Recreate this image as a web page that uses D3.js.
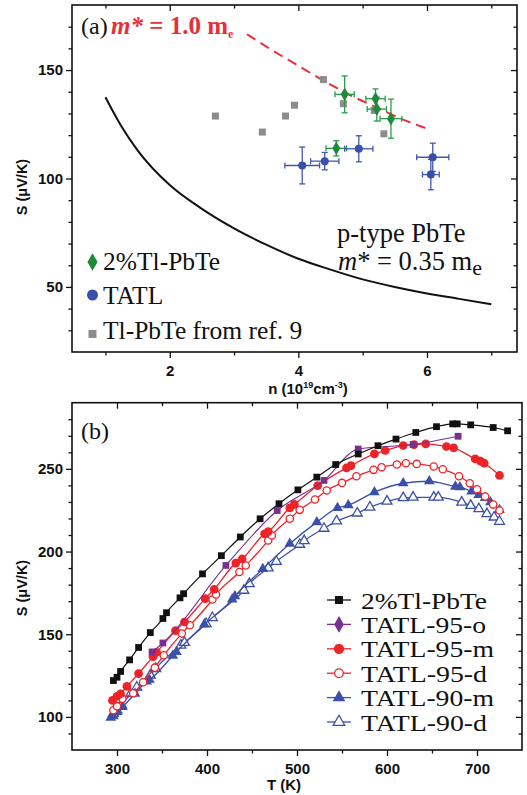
<!DOCTYPE html>
<html>
<head>
<meta charset="utf-8">
<script src="https://cdn.jsdelivr.net/npm/d3@7/dist/d3.min.js"></script>
<style>
body { margin: 0; background: #fff; }
svg { display: block; }
.tick text { font-family: "Liberation Sans", Arial, sans-serif; font-weight: bold; font-size: 15px; fill: #111; }
.tick line { stroke: #111; stroke-width: 1.3; }
.domain { display: none; }
</style>
</head>
<body>
<div id="root"></div>
<script>
// ---- panel (a): S vs n ----
var calcN = [1.0, 1.25, 1.5, 2, 2.5, 3, 3.5, 4, 4.5, 5, 5.5, 6, 6.5, 7];
var calcS = [137.5, 124, 113, 97, 86, 77, 69.5, 63, 58, 53.5, 50, 47, 44.5, 42];
var heavyN = [3.2, 3.6, 4.0, 4.4, 4.8, 5.2, 5.6, 6.0];
var heavyS = [166.5, 159, 152, 145, 138.5, 133, 127.5, 123];
var refN = [2.71, 3.44, 3.80, 3.94, 4.39, 4.70, 5.18, 5.33];
var refS = [128.8, 121.4, 128.8, 133.8, 145.6, 134.5, 131.4, 120.6];
var tlN = [4.72, 5.20, 5.22, 5.44, 4.59];
var tlS = [138.8, 136.8, 132.0, 127.6, 113.9];
var tlEx = [0.15, 0.15, 0.15, 0.17, 0.16];
var tlEy = [8.5, 4.5, 5.5, 9, 3.5];
var tatlN = [4.06, 4.41, 4.94, 6.09, 6.06];
var tatlS = [106, 108, 113.7, 109.8, 101.8];
var tatlEx = [0.27, 0.22, 0.22, 0.25, 0.13];
var tatlEy = [8.5, 4, 6, 6.5, 7];
var aXTicks = [2, 4, 6];
var aYTicks = [50, 100, 150];

// ---- panel (b): S vs T ----
var names = ["2%Tl-PbTe", "TATL-95-o", "TATL-95-m", "TATL-95-d", "TATL-90-m", "TATL-90-d"];
var tPbTe = [296, 300, 304, 314, 324, 337, 351, 355, 370, 374, 395, 416, 437, 459, 480, 501, 522, 543, 568, 590, 610, 632, 655, 673, 678, 693, 718, 734];
var sPbTe = [122, 124, 127.5, 134.5, 142, 151, 159.5, 163, 172, 174.5, 186.5, 197.5, 208.8, 219.8, 228.9, 237.3, 245, 252.6, 259, 264, 268, 272, 275.5, 277.2, 277.2, 276.6, 275, 273];
var t95o = [339, 351, 421, 478, 530, 568, 629, 679];
var s95o = [139.3, 144.7, 191.6, 224.8, 243, 262, 264.7, 269.7];
var t95m = [295, 300, 304, 311, 324, 340, 344, 365, 375, 398, 408, 432, 439, 464, 468, 492, 497, 523, 555, 560, 586, 598, 618, 630, 643, 666, 674, 698, 704, 708, 725];
var s95m = [110, 112.5, 114, 118.5, 126.2, 136.5, 139, 152.2, 157.4, 171.5, 177.2, 193, 195.5, 210.7, 212, 226.4, 228.5, 239.9, 250.6, 252, 259.1, 261.1, 264.1, 264.7, 265.1, 263.5, 262.7, 256, 254.6, 253.4, 246];
var t95d = [296, 300, 306, 318, 329, 342, 352, 372, 381, 406, 410, 436, 443, 468, 472, 492, 503, 520, 533, 550, 566, 585, 594, 611, 621, 633, 652, 662, 680, 692, 700, 709, 718, 725];
var s95d = [104, 106.5, 111, 114.3, 121, 129.8, 137.3, 150.4, 155.4, 171, 174, 187.6, 191.6, 206.7, 209.7, 219.8, 225.2, 231.5, 236.9, 241.5, 245.5, 249.4, 251, 252.6, 253.4, 253, 251.4, 249.8, 245.5, 241.3, 237.7, 233.3, 228.4, 224.8];
var t90m = [293, 296, 300, 306, 320, 333, 336, 362, 366, 397, 428, 431, 462, 492, 522, 545, 557, 586, 618, 647, 676, 681, 694, 702, 709, 715, 725];
var s90m = [99.5, 100.5, 103, 106, 114, 121.5, 122.5, 137, 139.3, 156, 171, 173, 189.5, 204.7, 217.8, 226.4, 228, 235.9, 241.3, 242.5, 239.3, 238.9, 236.3, 234.3, 232.5, 229.8, 225.2];
var t90d = [296, 300, 305, 315, 322, 337, 343, 371, 375, 399, 406, 441, 447, 468, 477, 503, 508, 530, 544, 567, 581, 600, 618, 629, 652, 657, 683, 693, 702, 711, 719, 725];
var s90d = [102, 104, 107, 114, 118, 125.2, 129.2, 143.3, 145, 156.4, 160, 176.5, 180.5, 190, 194, 204.3, 206.5, 214, 218.4, 223.2, 226.8, 230.4, 232.5, 232.8, 232.8, 232.8, 229.8, 227.8, 225.8, 222.8, 220.8, 218.2];
var bXTicks = [300, 400, 500, 600, 700];
var bYTicks = [100, 150, 200, 250];

var W = 527, H = 795;
var serif = '"Liberation Serif", "Times New Roman", serif';
var sans = '"Liberation Sans", Arial, sans-serif';

var svg = d3.select("#root").append("svg")
    .attr("width", W)
    .attr("height", H);

function frame(g, x, y, xMajor, xMinor, yMajor, yMinor) {
    var x0 = x.range()[0], x1 = x.range()[1], y0 = y.range()[0], y1 = y.range()[1];
    g.append("g").attr("transform", "translate(0," + y0 + ")")
        .call(d3.axisBottom(x).tickValues(xMajor).tickSize(6).tickPadding(7).tickFormat(d3.format("d")));
    g.append("g").attr("transform", "translate(0," + y0 + ")")
        .call(d3.axisBottom(x).tickValues(xMinor).tickSize(3.5).tickFormat(""));
    g.append("g").attr("transform", "translate(0," + y1 + ")")
        .call(d3.axisTop(x).tickValues(xMajor).tickSize(-6).tickFormat(""));
    g.append("g").attr("transform", "translate(0," + y1 + ")")
        .call(d3.axisTop(x).tickValues(xMinor).tickSize(-3.5).tickFormat(""));
    g.append("g").attr("transform", "translate(" + x0 + ",0)")
        .call(d3.axisLeft(y).tickValues(yMajor).tickSize(6).tickPadding(3).tickFormat(d3.format("d")));
    g.append("g").attr("transform", "translate(" + x0 + ",0)")
        .call(d3.axisLeft(y).tickValues(yMinor).tickSize(3.5).tickFormat(""));
    g.append("g").attr("transform", "translate(" + x1 + ",0)")
        .call(d3.axisRight(y).tickValues(yMajor).tickSize(-6).tickFormat(""));
    g.append("g").attr("transform", "translate(" + x1 + ",0)")
        .call(d3.axisRight(y).tickValues(yMinor).tickSize(-3.5).tickFormat(""));
    g.append("rect")
        .attr("x", x0).attr("y", y1)
        .attr("width", x1 - x0).attr("height", y0 - y1)
        .attr("fill", "none").attr("stroke", "#111").attr("stroke-width", 1.6);
}

function without(all, major) {
    return all.filter(function(v) { return major.indexOf(v) < 0; });
}

// ================= panel (a) =================
var xa = d3.scaleLinear().domain([0.48, 7.4]).range([72, 517]);
var ya = d3.scaleLinear().domain([20, 180]).range([352, 5]);
var ga = svg.append("g");
frame(ga, xa, ya, aXTicks, without(d3.range(1, 8, 1), aXTicks), aYTicks, without(d3.range(30, 180, 10), aYTicks));

var lineA = d3.line()
    .x(function(d) { return xa(d[0]); })
    .y(function(d) { return ya(d[1]); })
    .curve(d3.curveMonotoneX);

ga.append("path")
    .datum(d3.zip(calcN, calcS))
    .attr("d", lineA)
    .attr("fill", "none").attr("stroke", "#111").attr("stroke-width", 2);

ga.append("path")
    .datum(d3.zip(heavyN, heavyS))
    .attr("d", lineA)
    .attr("fill", "none").attr("stroke", "#e8303a").attr("stroke-width", 2)
    .attr("stroke-dasharray", "10,6");

ga.selectAll("rect.ref")
    .data(d3.zip(refN, refS))
    .enter().append("rect")
    .attr("class", "ref")
    .attr("x", function(d) { return xa(d[0]) - 3.5; })
    .attr("y", function(d) { return ya(d[1]) - 3.5; })
    .attr("width", 7).attr("height", 7)
    .attr("fill", "#8c8c8c");

function errorBars(data, color) {
    var g = ga.append("g").attr("stroke", color).attr("stroke-width", 1.3).attr("fill", "none");
    data.forEach(function(d) {
        var cx = xa(d[0]), cy = ya(d[1]);
        var xl = xa(d[0] - d[2]), xr = xa(d[0] + d[2]);
        var yt = ya(d[1] + d[3]), yb = ya(d[1] - d[3]);
        g.append("line").attr("x1", xl).attr("x2", xr).attr("y1", cy).attr("y2", cy);
        g.append("line").attr("x1", cx).attr("x2", cx).attr("y1", yt).attr("y2", yb);
        g.append("line").attr("x1", xl).attr("x2", xl).attr("y1", cy - 3).attr("y2", cy + 3);
        g.append("line").attr("x1", xr).attr("x2", xr).attr("y1", cy - 3).attr("y2", cy + 3);
        g.append("line").attr("x1", cx - 3).attr("x2", cx + 3).attr("y1", yt).attr("y2", yt);
        g.append("line").attr("x1", cx - 3).attr("x2", cx + 3).attr("y1", yb).attr("y2", yb);
    });
}

var tlData = d3.zip(tlN, tlS, tlEx, tlEy);
var tatlData = d3.zip(tatlN, tatlS, tatlEx, tatlEy);
errorBars(tlData, "#2a9a48");
errorBars(tatlData, "#4056b0");

ga.selectAll("path.tl")
    .data(tlData)
    .enter().append("path")
    .attr("class", "tl")
    .attr("transform", function(d) { return "translate(" + xa(d[0]) + "," + ya(d[1]) + ")"; })
    .attr("d", d3.symbol().type(d3.symbolDiamond).size(55))
    .attr("fill", "#1e8a3c");

ga.selectAll("circle.tatl")
    .data(tatlData)
    .enter().append("circle")
    .attr("class", "tatl")
    .attr("cx", function(d) { return xa(d[0]); })
    .attr("cy", function(d) { return ya(d[1]); })
    .attr("r", 4)
    .attr("fill", "#3a4fa8");

// texts panel (a)
ga.append("text").attr("x", 81).attr("y", 34)
    .attr("font-family", serif).attr("font-size", 24).attr("fill", "#111").text("(a)");
var red = ga.append("text").attr("x", 111).attr("y", 34)
    .attr("font-family", serif).attr("font-size", 25).attr("font-weight", "bold").attr("fill", "#e8303a");
red.append("tspan").attr("font-style", "italic").text("m*");
red.append("tspan").text(" = 1.0 m");
red.append("tspan").attr("font-size", 12).attr("dy", 4).text("e");

ga.append("text").attr("x", 337).attr("y", 242)
    .attr("font-family", serif).attr("font-size", 26.5).attr("fill", "#111").text("p-type PbTe");
var eff = ga.append("text").attr("x", 338).attr("y", 270)
    .attr("font-family", serif).attr("font-size", 26.5).attr("fill", "#111");
eff.append("tspan").attr("font-style", "italic").text("m");
eff.append("tspan").text("* = 0.35 m");
eff.append("tspan").attr("font-size", 22).attr("dy", 5).text("e");

// legend panel (a)
var legA = ga.append("g");
legA.append("path").attr("transform", "translate(92.5,262)")
    .attr("d", d3.symbol().type(d3.symbolDiamond).size(90)).attr("fill", "#1e8a3c");
legA.append("circle").attr("cx", 92.5).attr("cy", 295).attr("r", 5.5).attr("fill", "#3a4fa8");
legA.append("rect").attr("x", 88.5).attr("y", 330).attr("width", 8).attr("height", 8).attr("fill", "#8c8c8c");
legA.selectAll("text")
    .data([["2%Tl-PbTe", 270], ["TATL", 304], ["Tl-PbTe from ref. 9", 339]])
    .enter().append("text")
    .attr("x", 103).attr("y", function(d) { return d[1]; })
    .attr("font-family", serif).attr("font-size", 25.5).attr("fill", "#111")
    .text(function(d) { return d[0]; });

// axis titles panel (a)
ga.append("text")
    .attr("transform", "translate(27,187) rotate(-90)")
    .attr("text-anchor", "middle")
    .attr("font-family", sans).attr("font-weight", "bold").attr("font-size", 14.5).attr("fill", "#111")
    .text("S (\u03bcV/K)");
var nl = ga.append("text").attr("x", 308).attr("y", 394)
    .attr("text-anchor", "middle")
    .attr("font-family", sans).attr("font-weight", "bold").attr("font-size", 15).attr("fill", "#111");
nl.append("tspan").text("n (10");
nl.append("tspan").attr("font-size", 9).attr("dy", -6).text("19");
nl.append("tspan").attr("dy", 6).text("cm");
nl.append("tspan").attr("font-size", 9).attr("dy", -6).text("-3");
nl.append("tspan").attr("dy", 6).text(")");

// ================= panel (b) =================
var xb = d3.scaleLinear().domain([250, 750]).range([72, 522]);
var yb = d3.scaleLinear().domain([80, 290]).range([750, 402.7]);
var gb = svg.append("g");
frame(gb, xb, yb, bXTicks, without(d3.range(300, 750, 50), bXTicks), bYTicks, without(d3.range(90, 290, 10), bYTicks));

var series = [
    {name: names[0], t: tPbTe, s: sPbTe, color: "#111111", sym: d3.symbolSquare, size: 46, fill: true, lw: 1.2, w: 126},
    {name: names[1], t: t95o, s: s95o, color: "#7a2f8f", sym: d3.symbolSquare, size: 46, fill: true, lw: 1.1, legSym: d3.symbolDiamond, w: 125},
    {name: names[2], t: t95m, s: s95m, color: "#ee2328", sym: d3.symbolCircle, size: 60, fill: true, lw: 1.3, w: 133},
    {name: names[3], t: t95d, s: s95d, color: "#ee2328", sym: d3.symbolCircle, size: 42, fill: false, lw: 1.3, w: 126},
    {name: names[4], t: t90m, s: s90m, color: "#3b50a8", sym: d3.symbolTriangle, size: 50, fill: true, lw: 1.3, w: 133},
    {name: names[5], t: t90d, s: s90d, color: "#3b50a8", sym: d3.symbolTriangle, size: 42, fill: false, lw: 1.3, w: 126}
];

var lineB = d3.line()
    .x(function(d) { return xb(d[0]); })
    .y(function(d) { return yb(d[1]); })
    .curve(d3.curveMonotoneX);

series.slice().reverse().forEach(function(sr) {
    var pts = d3.zip(sr.t, sr.s);
    gb.append("path")
        .datum(pts)
        .attr("d", lineB)
        .attr("fill", "none").attr("stroke", sr.color).attr("stroke-width", sr.lw);
    gb.selectAll(null)
        .data(pts)
        .enter().append("path")
        .attr("transform", function(d) { return "translate(" + xb(d[0]) + "," + yb(d[1]) + ")"; })
        .attr("d", d3.symbol().type(sr.sym).size(sr.size))
        .attr("fill", sr.fill ? sr.color : "#fff")
        .attr("stroke", sr.color)
        .attr("stroke-width", sr.fill ? 0 : 1.3);
});

// legend panel (b)
var legB = gb.selectAll("g.leg")
    .data(series)
    .enter().append("g")
    .attr("class", "leg")
    .attr("transform", function(d, i) { return "translate(0," + (600 + i * 24.4) + ")"; });
legB.append("line")
    .attr("x1", 327).attr("x2", 351)
    .attr("stroke", function(d) { return d.color; }).attr("stroke-width", 1.3);
legB.append("path")
    .attr("transform", "translate(339,0)")
    .attr("d", function(d) { return d3.symbol().type(d.legSym || d.sym).size(d.legSym ? 80 : d.size * 1.4)(); })
    .attr("fill", function(d) { return d.fill ? d.color : "#fff"; })
    .attr("stroke", function(d) { return d.color; })
    .attr("stroke-width", function(d) { return d.fill ? 0 : 1.3; });
legB.append("text")
    .attr("x", 361).attr("y", 8.5)
    .attr("font-family", serif).attr("font-size", 24).attr("fill", "#111")
    .attr("textLength", function(d) { return d.w; })
    .attr("lengthAdjust", "spacingAndGlyphs")
    .text(function(d) { return d.name; });

gb.append("text").attr("x", 81).attr("y", 439)
    .attr("font-family", serif).attr("font-size", 24).attr("fill", "#111").text("(b)");

gb.append("text")
    .attr("transform", "translate(27,588) rotate(-90)")
    .attr("text-anchor", "middle")
    .attr("font-family", sans).attr("font-weight", "bold").attr("font-size", 14.5).attr("fill", "#111")
    .text("S (\u03bcV/K)");
gb.append("text").attr("x", 284).attr("y", 790)
    .attr("text-anchor", "middle")
    .attr("font-family", sans).attr("font-weight", "bold").attr("font-size", 15).attr("fill", "#111")
    .text("T (K)");
</script>
</body>
</html>
